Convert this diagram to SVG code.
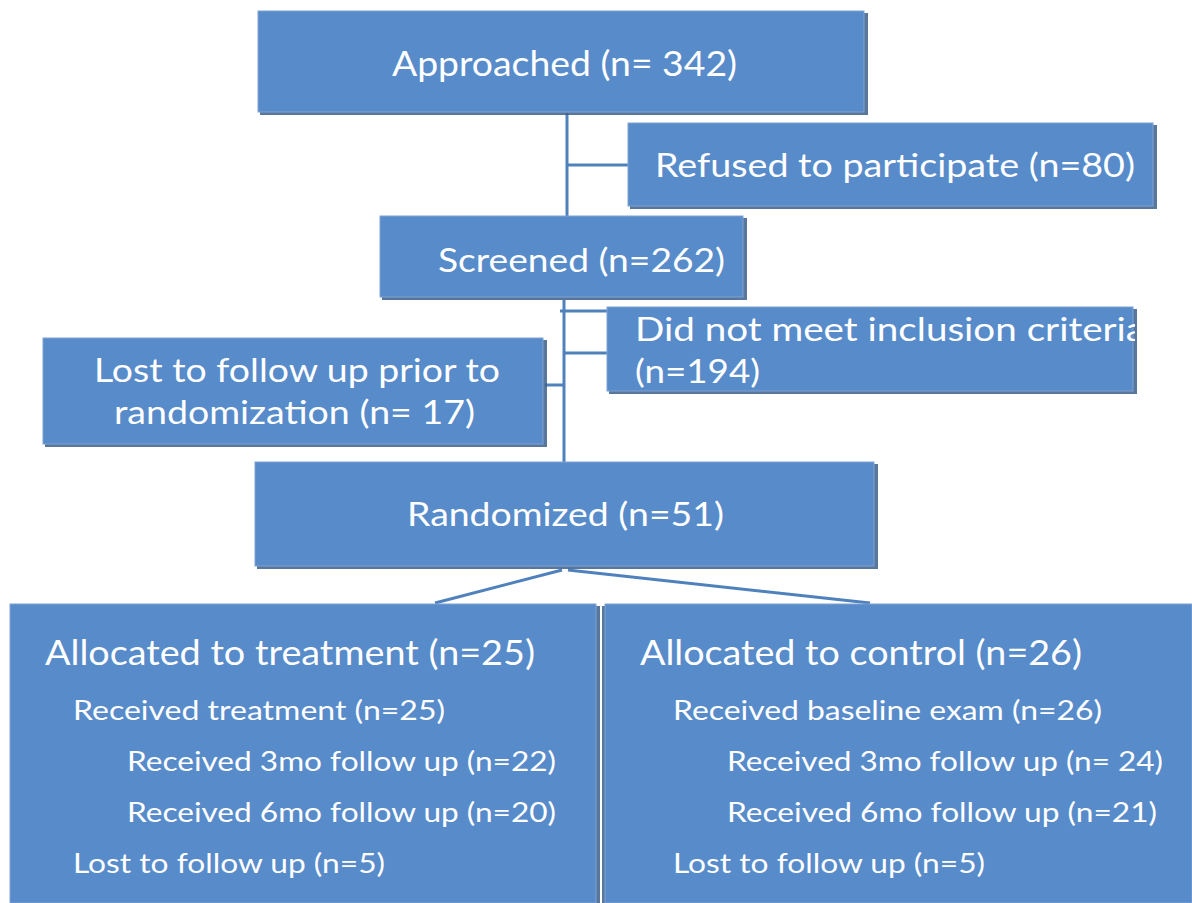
<svg xmlns="http://www.w3.org/2000/svg" width="1192" height="903" viewBox="0 0 1192 903">
<style>
.box{fill:#588bc9;stroke:#7fa3d3;stroke-width:1}
.sh{fill:#3b5f8c;opacity:0.85}
.t{font-family:Lato,"Liberation Sans",sans-serif;fill:#ffffff}
.big{font-size:34px}
.mid{font-size:32px}
.sm{font-size:26px}
.c{stroke:#4f81bd;stroke-width:3;fill:none}
</style>
<defs>
<clipPath id="clipDid"><rect x="607" y="307" width="528" height="86"/></clipPath>
</defs>
<rect width="1192" height="903" fill="#ffffff"/>
<g id="connectors">
<line class="c" x1="567" y1="113" x2="567" y2="216"/>
<line class="c" x1="567" y1="165" x2="628" y2="165"/>
<line class="c" x1="564" y1="300" x2="564" y2="462"/>
<line class="c" x1="560" y1="311" x2="607" y2="311"/>
<line class="c" x1="564" y1="353" x2="607" y2="353"/>
<line class="c" x1="545" y1="385" x2="564" y2="385"/>
<line class="c" x1="562" y1="570" x2="435" y2="603"/>
<line class="c" x1="568" y1="570" x2="870" y2="603"/>
</g>
<g id="approached">
<rect class="sh" x="260" y="13" width="608" height="102"/>
<rect class="box" x="258" y="11" width="606" height="101"/>
<text class="t big" x="392" y="76" textLength="345" lengthAdjust="spacingAndGlyphs">Approached (n= 342)</text>
</g>
<g id="refused">
<rect class="sh" x="630" y="125" width="527" height="84"/>
<rect class="box" x="628" y="123" width="525" height="83"/>
<text class="t mid" x="655" y="177" textLength="480" lengthAdjust="spacingAndGlyphs">Refused to participate (n=80)</text>
</g>
<g id="screened">
<rect class="sh" x="382" y="218" width="365" height="82"/>
<rect class="box" x="380" y="216" width="363" height="81"/>
<text class="t mid" x="438" y="272" textLength="287" lengthAdjust="spacingAndGlyphs">Screened (n=262)</text>
</g>
<g id="did-not-meet">
<rect class="sh" x="609" y="309" width="528" height="85"/>
<rect class="box" x="607" y="307" width="526" height="84"/>
<g clip-path="url(#clipDid)">
<text class="t mid" x="635" y="341" textLength="510" lengthAdjust="spacingAndGlyphs">Did not meet inclusion criteria</text>
</g>
<text class="t mid" x="635" y="383" textLength="125" lengthAdjust="spacingAndGlyphs">(n=194)</text>
</g>
<g id="lost-prior">
<rect class="sh" x="45" y="340" width="502" height="107"/>
<rect class="box" x="43" y="338" width="500" height="106"/>
<text class="t mid" x="94" y="382" textLength="406" lengthAdjust="spacingAndGlyphs">Lost to follow up prior to</text>
<text class="t mid" x="114" y="424" textLength="361" lengthAdjust="spacingAndGlyphs">randomization (n= 17)</text>
</g>
<g id="randomized">
<rect class="sh" x="257" y="464" width="621" height="105"/>
<rect class="box" x="255" y="462" width="619" height="104"/>
<text class="t mid" x="407" y="526" textLength="317" lengthAdjust="spacingAndGlyphs">Randomized (n=51)</text>
</g>
<g id="treatment">
<rect class="sh" x="12" y="606" width="588" height="297"/>
<rect class="box" x="10" y="604" width="586" height="299"/>
<text class="t big" x="45" y="665" textLength="490" lengthAdjust="spacingAndGlyphs">Allocated to treatment (n=25)</text>
<text class="t sm" x="73" y="720" textLength="372" lengthAdjust="spacingAndGlyphs">Received treatment (n=25)</text>
<text class="t sm" x="127" y="771" textLength="429" lengthAdjust="spacingAndGlyphs">Received 3mo follow up (n=22)</text>
<text class="t sm" x="127" y="822" textLength="429" lengthAdjust="spacingAndGlyphs">Received 6mo follow up (n=20)</text>
<text class="t sm" x="73" y="873" textLength="312" lengthAdjust="spacingAndGlyphs">Lost to follow up (n=5)</text>
</g>
<g id="control">
<rect class="sh" x="602" y="606" width="590" height="297"/>
<rect class="box" x="605" y="604" width="587" height="299"/>
<text class="t big" x="640" y="665" textLength="442" lengthAdjust="spacingAndGlyphs">Allocated to control (n=26)</text>
<text class="t sm" x="673" y="720" textLength="429" lengthAdjust="spacingAndGlyphs">Received baseline exam (n=26)</text>
<text class="t sm" x="727" y="771" textLength="436" lengthAdjust="spacingAndGlyphs">Received 3mo follow up (n= 24)</text>
<text class="t sm" x="727" y="822" textLength="430" lengthAdjust="spacingAndGlyphs">Received 6mo follow up (n=21)</text>
<text class="t sm" x="673" y="873" textLength="312" lengthAdjust="spacingAndGlyphs">Lost to follow up (n=5)</text>
</g>
</svg>
